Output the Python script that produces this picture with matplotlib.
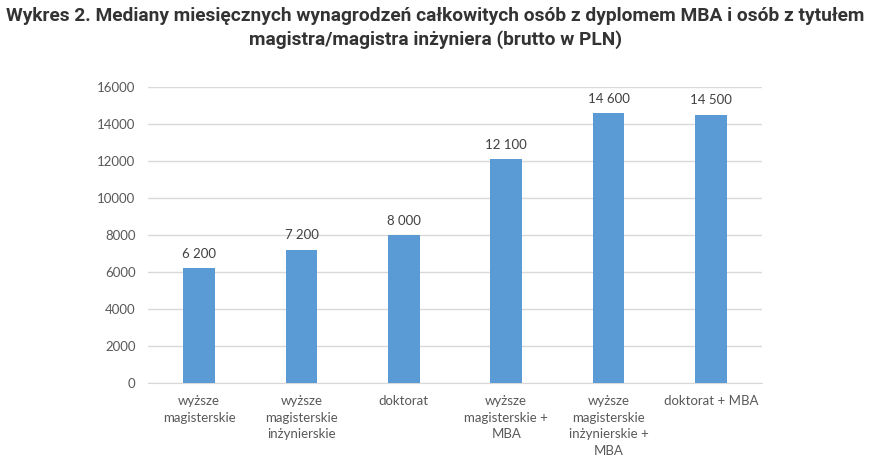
import matplotlib
matplotlib.use("Agg")
import matplotlib.pyplot as plt

## Data
categories = ["wyższe\nmagisterskie", "wyższe\nmagisterskie\ninżynierskie", "doktorat",
              "wyższe\nmagisterskie +\nMBA", "wyższe\nmagisterskie\ninżynierskie +\nMBA", "doktorat + MBA"]
values = [6200, 7200, 8000, 12100, 14600, 14500]
value_labels = ["6 200", "7 200", "8 000", "12 100", "14 600", "14 500"]
yticks = [0, 2000, 4000, 6000, 8000, 10000, 12000, 14000, 16000]

title = ("Wykres 2. Mediany miesięcznych wynagrodzeń całkowitych osób z dyplomem MBA i osób z tytułem\n"
         "magistra/magistra inżyniera (brutto w PLN)")

fig = plt.figure(figsize=(8.71, 4.59), dpi=100)
ax = fig.add_axes([0.170, 0.1656, 0.705, 0.645])

x = list(range(len(categories)))
ax.bar(x, values, width=0.31, color="#5B9BD5", zorder=3)

for xi, v, lab in zip(x, values, value_labels):
    ax.text(xi, v + 450, lab, ha="center", va="bottom", fontsize=9.5, color="#404040", family="Lato")

ax.set_xlim(-0.5, len(categories) - 0.5)
ax.set_ylim(0, 16000)
ax.set_yticks(yticks)
ax.set_yticklabels([str(t) for t in yticks], fontsize=9.5, color="#595959", family="Lato")
ax.set_xticks(x)
ax.set_xticklabels(categories, fontsize=9.5, color="#595959", family="Lato", linespacing=1.45, va="top")
ax.tick_params(axis="both", length=0)
ax.tick_params(axis="y", pad=9)
ax.tick_params(axis="x", pad=9)

ax.grid(axis="y", color="#d9d9d9", linewidth=1, zorder=0)
for s in ["top", "right", "left"]:
    ax.spines[s].set_visible(False)
ax.spines["bottom"].set_color("#d9d9d9")

fig.text(0.5, 0.984, title, ha="center", va="top", fontsize=13.8, fontweight="bold",
         color="#333333", family="Roboto", linespacing=1.3)

fig.savefig("out.png", dpi=100)
